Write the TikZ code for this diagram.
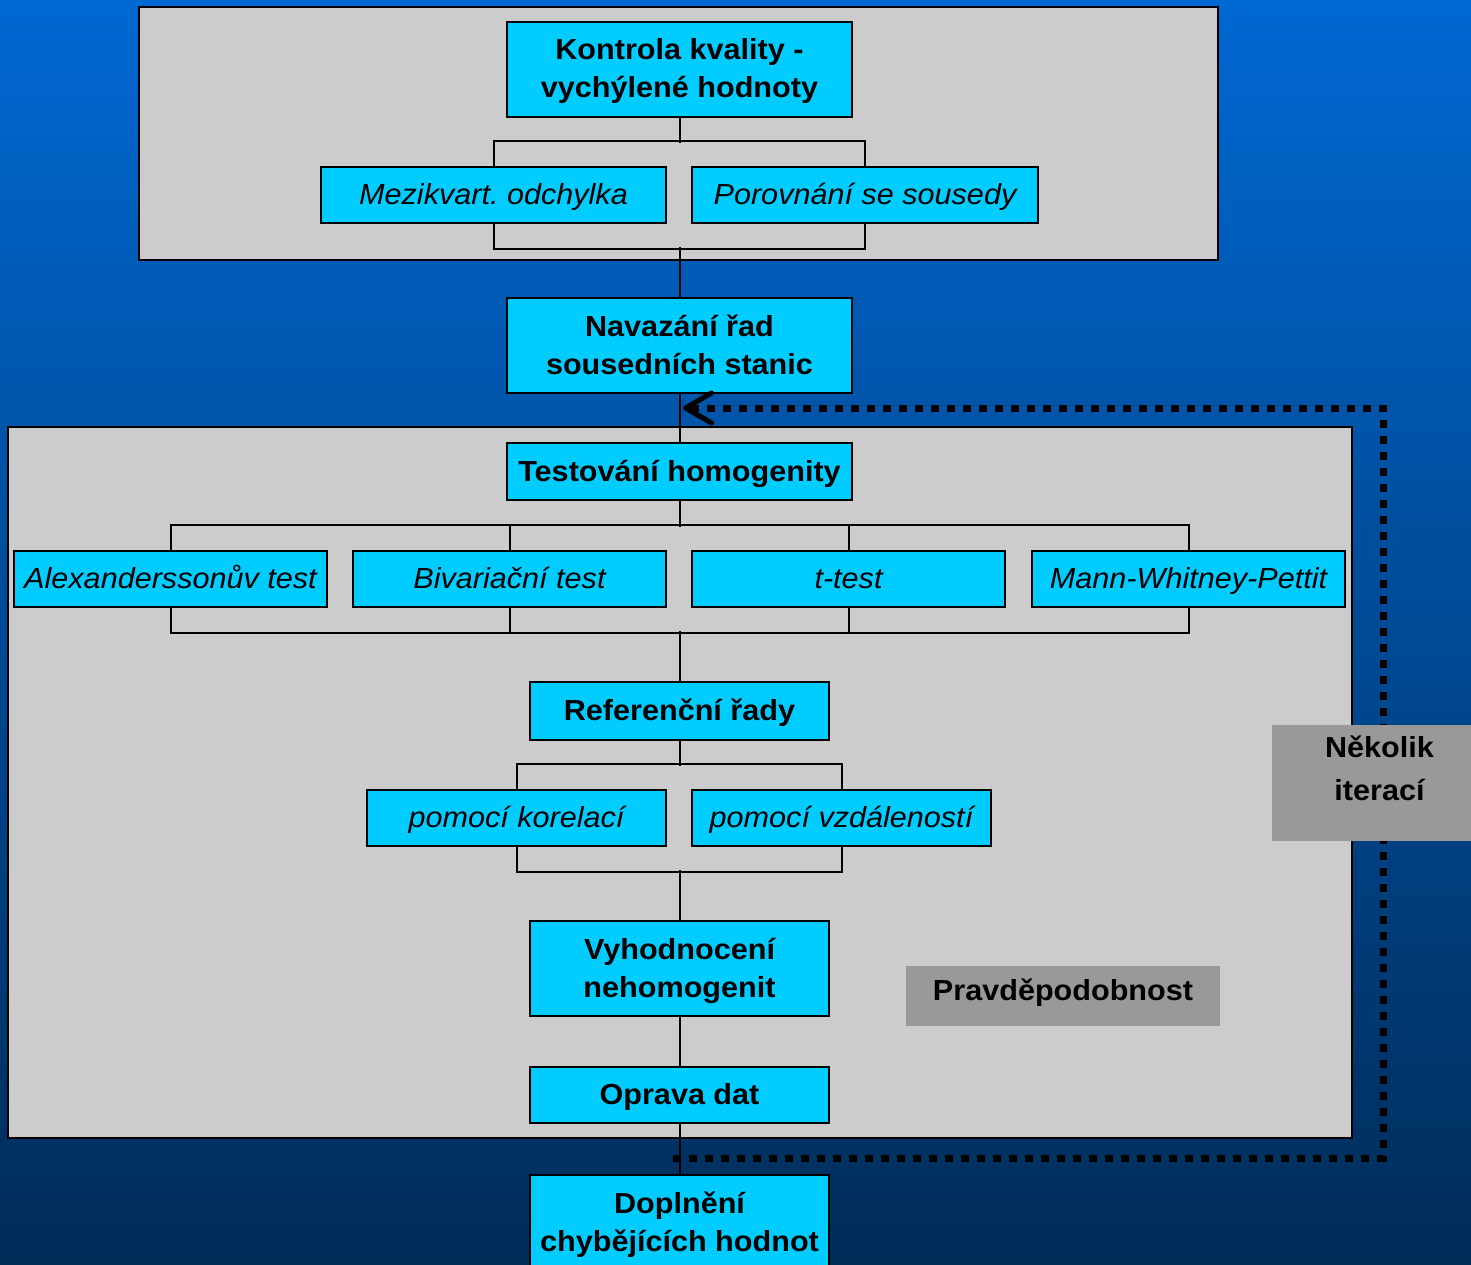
\documentclass[tikz,border=0pt]{standalone}
\usepackage{fontspec}
\setmainfont{Liberation Sans}[FakeStretch=1.055]
\usetikzlibrary{arrows.meta}
\definecolor{bgtop}{RGB}{0,104,210}
\definecolor{bgmid}{RGB}{0,80,162}
\definecolor{bgbot}{RGB}{0,44,88}
\definecolor{cyanbox}{RGB}{0,204,255}
\definecolor{panelgray}{RGB}{204,204,204}
\definecolor{notegray}{RGB}{153,153,153}
\newcommand\ls{\rule[-9pt]{0pt}{37pt}}
\tikzset{
  panel/.style={draw=black, line width=2pt, fill=panelgray},
  mainbox/.style={draw=black, line width=2pt, fill=cyanbox, inner sep=0pt, align=center,
    font=\fontsize{29}{36.5}\selectfont\bfseries\frenchspacing},
  subbox/.style={draw=black, line width=2pt, fill=cyanbox, inner sep=0pt, align=center,
    font=\fontsize{29}{36.5}\selectfont\itshape\frenchspacing},
  notebox/.style={fill=notegray, inner sep=0pt, align=center,
    font=\fontsize{29}{42.7}\selectfont\bfseries},
  conn/.style={draw=black, line width=2pt},
  iterloop/.style={draw=black, line width=7pt, dash pattern=on 8pt off 8pt,
    -{Straight Barb[length=26pt, width=30pt, line width=5pt, round]}},
}
\begin{document}
\begin{tikzpicture}[x=1pt, y=-1pt]
\useasboundingbox (0,0) rectangle (1471,1265);
\clip (0,0) rectangle (1471,1265);
\shade[top color=bgtop, middle color=bgmid, bottom color=bgbot] (0,0) rectangle (1471,1265);

% panels
\draw[panel] (139,7) rectangle (1218,260);
\draw[panel] (8,427) rectangle (1352,1138);

% nodes
\node[mainbox, minimum width=345pt, minimum height=95pt] (k1) at (679.5,69.5) {\ls Kontrola kvality -\\\ls vychýlené hodnoty};
\node[subbox, minimum width=345pt, minimum height=56pt] (m1) at (493.5,195) {\ls Mezikvart. odchylka};
\node[subbox, minimum width=346pt, minimum height=56pt] (m2) at (865,195) {\ls Porovnání se sousedy};
\node[mainbox, minimum width=345pt, minimum height=95pt] (nav) at (679.5,345.5) {\ls Navazání řad\\\ls sousedních stanic};
\node[mainbox, minimum width=345pt, minimum height=57pt] (tst) at (679.5,471.5) {\ls Testování homogenity};
\node[subbox, minimum width=313pt, minimum height=56pt] (a1) at (170.5,579) {\ls Alexanderssonův test};
\node[subbox, minimum width=313pt, minimum height=56pt] (a2) at (509.5,579) {\ls Bivariační test};
\node[subbox, minimum width=313pt, minimum height=56pt] (a3) at (848.5,579) {\ls t-test};
\node[subbox, minimum width=313pt, minimum height=56pt] (a4) at (1188.5,579) {\ls Mann-Whitney-Pettit};
\node[mainbox, minimum width=299pt, minimum height=58pt] (ref) at (679.5,711) {\ls Referenční řady};
\node[subbox, minimum width=299pt, minimum height=56pt] (p1) at (516.5,818) {\ls pomocí korelací};
\node[subbox, minimum width=299pt, minimum height=56pt] (p2) at (841.5,818) {\ls pomocí vzdáleností};
\node[mainbox, minimum width=299pt, minimum height=95pt] (vyh) at (679.5,968.5) {\ls Vyhodnocení\\\ls nehomogenit};
\node[mainbox, minimum width=299pt, minimum height=56pt] (opr) at (679.5,1095) {\ls Oprava dat};
\node[mainbox, minimum width=299pt, minimum height=95pt] (dop) at (679.5,1222.5) {\ls Doplnění\\\ls chybějících hodnot};
\node[notebox, minimum width=314pt, minimum height=60pt] (pst) at (1063,996) {\rule[-18pt]{0pt}{44pt}Pravděpodobnost};

% connectors
\draw[conn] (k1.south) -- ++(0,25);
\draw[conn] (m1.north) -- ++(0,-25) -| (m2.north);
\draw[conn] (m1.south) -- ++(0,25) -| (m2.south);
\draw[conn] (nav.north) -- ++(0,-50);
\draw[conn] (nav.south) -- (tst.north);
\draw[conn] (tst.south) -- ++(0,26);
\draw[conn] (a1.north) -- ++(0,-25) -| (a4.north);
\draw[conn] (a2.north) -- ++(0,-25);
\draw[conn] (a3.north) -- ++(0,-25);
\draw[conn] (a1.south) -- ++(0,25) -| (a4.south);
\draw[conn] (a2.south) -- ++(0,25);
\draw[conn] (a3.south) -- ++(0,25);
\draw[conn] (ref.north) -- ++(0,-50);
\draw[conn] (ref.south) -- ++(0,25);
\draw[conn] (p1.north) -- ++(0,-25) -| (p2.north);
\draw[conn] (p1.south) -- ++(0,25) -| (p2.south);
\draw[conn] (vyh.north) -- ++(0,-50);
\draw[conn] (vyh.south) -- (opr.north);
\draw[conn] (opr.south) -- (dop.north);

% iteration loop
\coordinate (loopstart) at (673,1158);
\coordinate (loopend) at (683,408);
\draw[iterloop] (loopstart) -- (1383,1158) -- (1383,408) -- (loopend);

\node[notebox, minimum width=200pt, minimum height=116pt, text width=200pt] (itr) at (1371.5,783)
  {\hspace*{16pt}\rule[-3.6pt]{0pt}{31.6pt}Několik\\\hspace*{16pt}\rule[-36.6pt]{0pt}{58.6pt}iterací};
\end{tikzpicture}
\end{document}
